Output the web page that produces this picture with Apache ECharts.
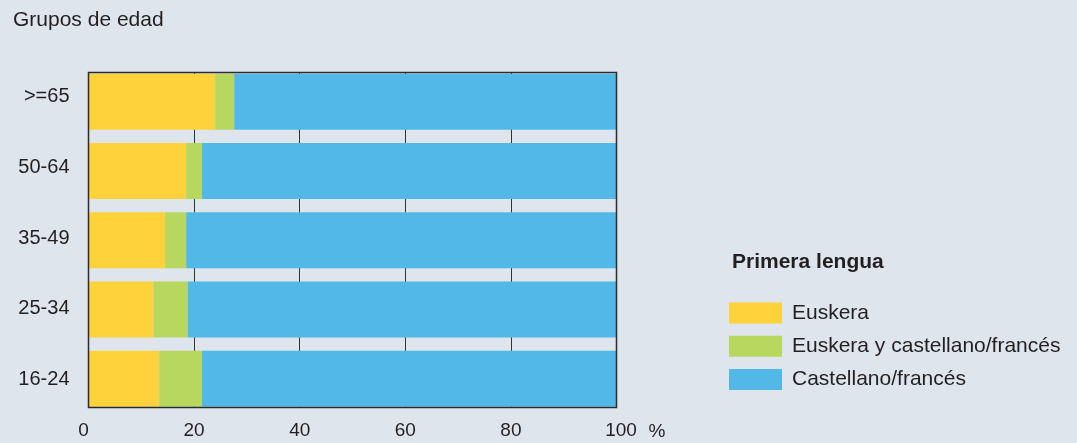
<!DOCTYPE html>
<html>
<head>
<meta charset="utf-8">
<script src="https://cdn.jsdelivr.net/npm/echarts@6/dist/echarts.min.js"></script>
<style>
html,body{margin:0;padding:0;background:#DEE5ED;}
#chart{width:1077px;height:443px;}
</style>
</head>
<body>
<div id="chart"></div>
<script>
const categories = ['>=65', '50-64', '35-49', '25-34', '16-24'];
const euskera = [24, 18.5, 14.5, 12.3, 13.4];
const bilingue = [3.6, 3.0, 4.0, 6.5, 8.1];
const castellano = [72.4, 78.5, 81.5, 81.2, 78.5];
const seriesNames = ['Euskera', 'Euskera y castellano/francés', 'Castellano/francés'];
const xMin = 0, xMax = 100, xInterval = 20;

const FONT = '"Liberation Sans", Arial, Helvetica, sans-serif';
const TXT = '#231F20';
const colors = ['#FDD23A', '#B8D75E', '#52B8E8'];

const chart = echarts.init(document.getElementById('chart'), null, {renderer: 'canvas'});
const seriesData = [euskera, bilingue, castellano];

chart.setOption({
  backgroundColor: '#DEE5ED',
  animation: false,
  textStyle: {fontFamily: FONT, color: TXT},
  title: [
    {text: 'Grupos de edad', left: 13, top: 10, padding: 0,
     textStyle: {fontSize: 21, fontWeight: 'normal', color: TXT, fontFamily: FONT}},
    {text: 'Primera lengua', left: 732, top: 252, padding: 0,
     textStyle: {fontSize: 21, fontWeight: 'bold', color: TXT, fontFamily: FONT}}
  ],
  legend: {
    orient: 'vertical', left: 729, top: 302.5, padding: 0,
    itemWidth: 53, itemHeight: 21, itemGap: 12.3, icon: 'rect',
    data: seriesNames,
    textStyle: {fontSize: 21, color: TXT, fontFamily: FONT, padding: [0, 0, 0, 5]}
  },
  grid: [
    {left: 88.5, width: 528, top: 67.2, height: 346.2, show: false},
    {left: 88.5, width: 528, top: 72.5, height: 335, show: true, z: 3,
     backgroundColor: 'transparent', borderColor: '#2b2b2b', borderWidth: 1.5},
    {left: 88.5, width: 528, top: 61.4, height: 353.2, show: false}
  ],
  xAxis: [
    {gridIndex: 0, type: 'value', min: xMin, max: xMax, interval: xInterval, show: false},
    {gridIndex: 1, type: 'value', min: xMin, max: xMax, interval: xInterval,
     axisLine: {show: false}, axisTick: {show: false},
     splitLine: {show: true, lineStyle: {color: '#333', width: 1}},
     axisLabel: {fontSize: 19, color: TXT, fontFamily: FONT, margin: 14,
       formatter: v => v === xMin ? '{l|' + v + '}' : (v === xMax ? '{r|' + v + '}' : String(v)),
       rich: {l: {fontSize: 19, color: TXT, fontFamily: FONT, padding: [0, 10, 0, 0]},
              r: {fontSize: 19, color: TXT, fontFamily: FONT, padding: [0, 0, 0, 9]}}},
     name: '%', nameLocation: 'end', nameGap: 32,
     nameTextStyle: {fontSize: 19, color: TXT, fontFamily: FONT, verticalAlign: 'top', padding: [15, 0, 0, 0]}},
    {gridIndex: 2, type: 'value', min: xMin, max: xMax, show: false}
  ],
  yAxis: [
    {gridIndex: 0, type: 'category', data: categories, inverse: true,
     axisLine: {show: false}, axisTick: {show: false}, splitLine: {show: false},
     axisLabel: {show: false}},
    {gridIndex: 1, type: 'value', show: false, min: 0, max: 1},
    {gridIndex: 2, type: 'category', data: categories, inverse: true,
     axisLine: {show: false}, axisTick: {show: false}, splitLine: {show: false},
     axisLabel: {fontSize: 20, color: TXT, fontFamily: FONT, margin: 19}}
  ],
  series: seriesNames.map((name, i) => ({
    name: name, type: 'bar', stack: 'total', xAxisIndex: 0, yAxisIndex: 0,
    data: seriesData[i], barCategoryGap: '19%',
    itemStyle: {color: colors[i]}, z: 2
  }))
});
</script>
</body>
</html>
